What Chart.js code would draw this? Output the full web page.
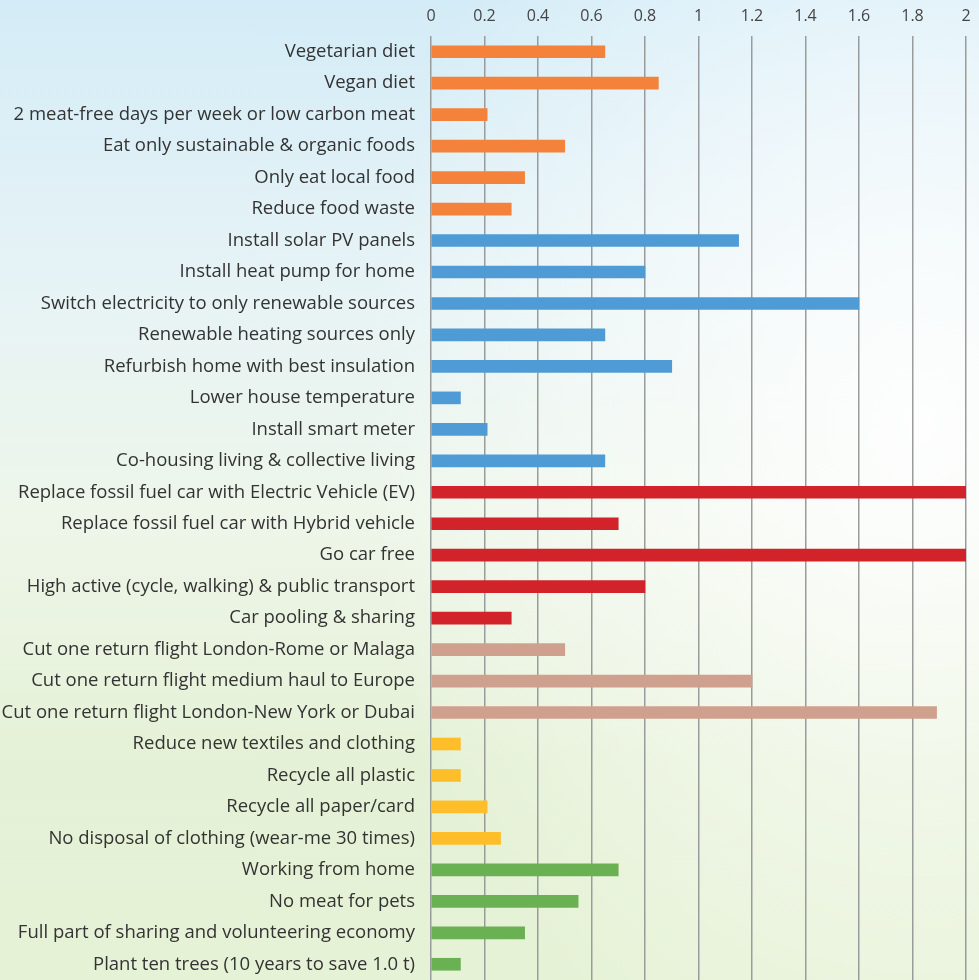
<!DOCTYPE html>
<html>
<head>
<meta charset="utf-8">
<script src="https://cdn.jsdelivr.net/npm/chart.js@4"></script>
<style>
  html, body { margin: 0; padding: 0; }
  body {
    width: 979px; height: 980px; overflow: hidden;
    background:
      radial-gradient(ellipse 560px 720px at 920px 420px, rgba(255,255,255,0.9), rgba(255,255,255,0) 100%),
      linear-gradient(180deg, #d4ecf7 0%, #e6f3f6 28%, #eef6ea 52%, #e5f1d6 78%, #e6f2d6 100%);
  }
  canvas { position: absolute; left: 0; top: 0; }
</style>
</head>
<body>
<canvas id="c" width="979" height="980"></canvas>
<script>
const categories = [
  "Vegetarian diet",
  "Vegan diet",
  "2 meat-free days per week or low carbon meat",
  "Eat only sustainable & organic foods",
  "Only eat local food",
  "Reduce food waste",
  "Install solar PV panels",
  "Install heat pump for home",
  "Switch electricity to only renewable sources",
  "Renewable heating sources only",
  "Refurbish home with best insulation",
  "Lower house temperature",
  "Install smart meter",
  "Co-housing living & collective living",
  "Replace fossil fuel car with Electric Vehicle (EV)",
  "Replace fossil fuel car with Hybrid vehicle",
  "Go car free",
  "High active (cycle, walking) & public transport",
  "Car pooling & sharing",
  "Cut one return flight London-Rome or Malaga",
  "Cut one return flight medium haul to Europe",
  "Cut one return flight London-New York or Dubai",
  "Reduce new textiles and clothing",
  "Recycle all plastic",
  "Recycle all paper/card",
  "No disposal of clothing (wear-me 30 times)",
  "Working from home",
  "No meat for pets",
  "Full part of sharing and volunteering economy",
  "Plant ten trees (10 years to save 1.0 t)"
];
const values = [
  0.65, 0.85, 0.21, 0.5, 0.35, 0.3,
  1.15, 0.8, 1.6, 0.65, 0.9, 0.11, 0.21, 0.65,
  2.0, 0.7, 2.0, 0.8, 0.3,
  0.5, 1.2, 1.89,
  0.11, 0.11, 0.21, 0.26,
  0.7, 0.55, 0.35, 0.11
];
const groups = [
  0,0,0,0,0,0,
  1,1,1,1,1,1,1,1,
  2,2,2,2,2,
  3,3,3,
  4,4,4,4,
  5,5,5,5
];
const groupColors = ["#F4823A", "#4F9BD6", "#D2232A", "#CFA08D", "#FDBE2A", "#6AB153"];
const xTicks = [0, 0.2, 0.4, 0.6, 0.8, 1, 1.2, 1.4, 1.6, 1.8, 2];

const FONT = "'Open Sans', 'DejaVu Sans', sans-serif";

new Chart(document.getElementById('c'), {
  type: 'bar',
  data: {
    labels: categories,
    datasets: [{
      data: values,
      backgroundColor: groups.map(g => groupColors[g]),
      barThickness: 12,
      borderWidth: 0
    }]
  },
  options: {
    indexAxis: 'y',
    responsive: false,
    animation: false,
    layout: { padding: { left: 0, right: 13, top: 0, bottom: 0 } },
    plugins: { legend: { display: false }, tooltip: { enabled: false } },
    scales: {
      x: {
        position: 'top',
        min: 0, max: 2,
        afterBuildTicks: s => { s.ticks = xTicks.map(v => ({ value: v })); },
        afterFit: s => { s.height = 36; s.paddingLeft = 0; s.paddingRight = 0; },
        grid: { color: '#9a9c9c', lineWidth: 1.5, drawTicks: false },
        border: { display: false },
        ticks: {
          color: '#444',
          font: { family: FONT, size: 16 },
          padding: 10,
          maxRotation: 0,
          callback: v => String(v)
        }
      },
      y: {
        afterFit: s => { s.width = 431; s.paddingTop = 0; s.paddingBottom = 0; },
        grid: { display: false, drawTicks: false },
        border: { display: false },
        ticks: {
          color: '#333',
          font: { family: FONT, size: 18.5 },
          padding: 16,
          autoSkip: false
        }
      }
    }
  }
});
</script>
</body>
</html>
